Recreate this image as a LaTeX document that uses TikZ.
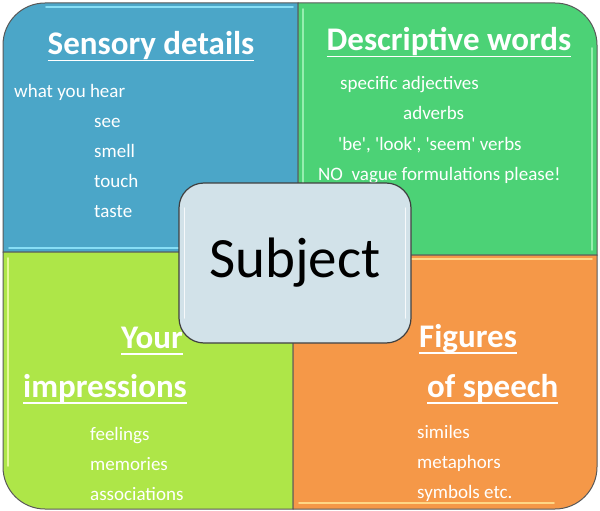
\documentclass[tikz,border=0pt]{standalone}
\usepackage{fontspec}
\setmainfont{Carlito}
\usetikzlibrary{positioning}

\definecolor{sensblue}{RGB}{75,166,200}
\definecolor{descgreen}{RGB}{76,210,118}
\definecolor{impgreen}{RGB}{174,230,72}
\definecolor{figorange}{RGB}{245,152,72}
\definecolor{subjgray}{RGB}{210,226,233}
\definecolor{senslight}{RGB}{135,222,245}
\definecolor{desclight}{RGB}{150,238,175}
\definecolor{implight}{RGB}{228,250,150}
\definecolor{figlight}{RGB}{255,215,135}

\newcommand{\hdline}[1]{\setbox0\hbox{#1}\rlap{\usebox0}\rule[-6.5pt]{\wd0}{1.8pt}}
\newcommand{\sq}{\textquotesingle}

\begin{document}
\begin{tikzpicture}[x=1pt,y=-1pt]
\useasboundingbox (0,0) rectangle (600,511);

\begin{scope}[quadrant/.style={draw=black!65,line width=1pt},
  hilite/.style={line width=1.8pt,line cap=round,draw=#1},
  heading/.style={text=white,font=\bfseries\fontsize{33}{36}\selectfont,inner sep=0,anchor=base},
  item/.style={text=white,font=\fontsize{19}{22}\selectfont,inner sep=0,anchor=base west},
  subjectbox/.style={draw=black!75,line width=1.2pt,fill=subjgray,rounded corners=25pt,minimum width=232pt,minimum height=160pt,inner sep=0,font=\fontsize{57}{60}\selectfont}]
% Quadrants
\draw[quadrant,fill=sensblue] (3,252) -- (3,45) arc[start angle=180,end angle=270,radius=42] -- (298,3) -- (298,252) -- cycle;
\draw[quadrant,fill=descgreen] (298,3) -- (555,3) arc[start angle=270,end angle=360,radius=42] -- (597,255) -- (298,255) -- cycle;
\draw[quadrant,fill=impgreen] (3,252) -- (293,252) -- (293,509) -- (45,509) arc[start angle=90,end angle=180,radius=42] -- cycle;
\draw[quadrant,fill=figorange] (293,255) -- (597,255) -- (597,467) arc[start angle=0,end angle=90,radius=42] -- (293,509) -- cycle;

% bevel lines
\draw[hilite=senslight] (46,7) -- (293,7);
\draw[hilite=senslight] (9,248) -- (293,248);
\draw[hilite=desclight] (303,9) -- (303,249);
\draw[hilite=desclight] (592,48) -- (592,250);
\draw[hilite=implight] (8,258) -- (8,466);
\draw[hilite=figlight] (299,259) -- (592,259);
\draw[hilite=figlight] (299,503) -- (554,503);

% Sensory details
\node[heading] (sens) at (151,55) {\hdline{Sensory details}};
\node[item] (hear) at (14,97) {what you hear};
\node[item] (see) at (94,127) {see};
\node[item] (smell) at (94,157) {smell};
\node[item] (touch) at (94,187) {touch};
\node[item] (taste) at (94,217) {taste};

% Descriptive words
\node[heading] (desc) at (449,51) {\hdline{Descriptive words}};
\node[item] (adj) at (340,89) {specific adjectives};
\node[item] (adv) at (403,120) {adverbs};
\node[item] (verbs) at (338,150) {\sq be\sq, \sq look\sq, \sq seem\sq{} verbs};
\node[item] (vague) at (318,180) {NO\ \ vague formulations please!};

% Your impressions
\node[heading,anchor=base east] (your) at (183,348) {\hdline{Your}};
\node[heading,anchor=base west] (impr) at (23,397) {\hdline{impressions}};
\node[item] (feel) at (90,440) {feelings};
\node[item] (mem) at (90,470) {memories};
\node[item] (assoc) at (90,500) {associations};

% Figures of speech
\node[heading,anchor=base west] (fig) at (419,347) {\hdline{Figures}};
\node[heading,anchor=base west] (speech) at (427,397) {\hdline{of speech}};
\node[item] (simil) at (417,438) {similes};
\node[item] (metaph) at (417,468) {metaphors};
\node[item] (symb) at (417,498) {symbols etc.};

% Subject
\node[subjectbox] (subject) at (295,263) {Subject};
\draw[hilite=white!80!subjgray,line width=1.5pt] (subject.west) ++(6,-55) -- ++(0,110);
\draw[hilite=white!80!subjgray,line width=1.5pt] (subject.east) ++(-6,-55) -- ++(0,110);
\end{scope}

\end{tikzpicture}
\end{document}
